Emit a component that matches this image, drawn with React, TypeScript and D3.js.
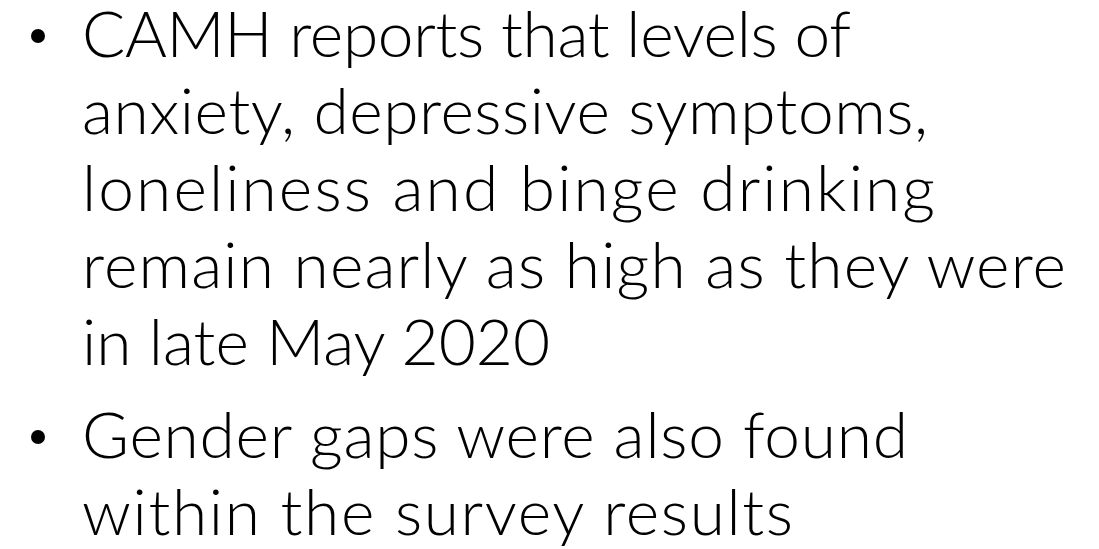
import React from "react";
import * as d3 from "d3";

const bullet1Lines = [
  "CAMH reports that levels of",
  "anxiety, depressive symptoms,",
  "loneliness and binge drinking",
  "remain nearly as high as they were",
  "in late May 2020",
];
const bullet2Lines = ["Gender gaps were also found", "within the survey results"];

// right edge of each rendered line in the slide (layout only)
const lineEnds1 = [853, 930, 937, 1068, 552];
const lineEnds2 = [910, 795];

const W = 1099;
const H = 549;
const FONT = "Lato, 'Open Sans', 'Noto Sans', sans-serif";
const FS = 64;
const LINE = 77;
const PARA_GAP = 16;
const TEXT_X = 82;
const BULLET_X = 38;

export default function App() {
  const paras = [
    { lines: bullet1Lines, ends: lineEnds1 },
    { lines: bullet2Lines, ends: lineEnds2 },
  ];
  const rows: { text: string; y: number; first: boolean; end: number }[] = [];
  let y = 57;
  paras.forEach((p, pi) => {
    if (pi > 0) y += PARA_GAP;
    p.lines.forEach((t, i) => {
      rows.push({ text: t, y, first: i === 0, end: p.ends[i] });
      y += LINE;
    });
  });
  const xScale = d3.scaleLinear().domain([0, W]).range([0, W]);
  return (
    <div style={{ position: "fixed", left: 0, top: 0, background: "#fff" }}>
      <svg width={W} height={H} style={{ display: "block" }}>
        <rect width={W} height={H} fill="#fff" />
        {rows.map((r, i) => (
          <g key={i}>
            {r.first && (
              <circle cx={xScale(BULLET_X)} cy={r.y - 21} r={7} fill="#000" />
            )}
            <text
              x={xScale(TEXT_X)}
              y={r.y}
              fontFamily={FONT}
              fontWeight={300}
              fontSize={FS}
              fill="#000"
              textLength={xScale(r.end) - xScale(TEXT_X) - 2}
              lengthAdjust="spacing"
            >
              {r.text}
            </text>
          </g>
        ))}
      </svg>
    </div>
  );
}
